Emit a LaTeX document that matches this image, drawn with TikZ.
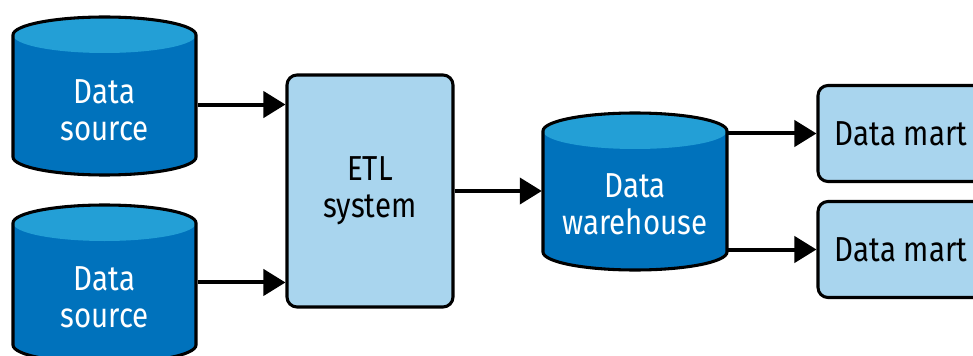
\documentclass[tikz,border=0pt]{standalone}
\usepackage{fontspec}
\setmainfont{Fira Sans}[FakeStretch=0.85]
\usetikzlibrary{arrows.meta,positioning}
\definecolor{canbody}{RGB}{0,114,188}
\definecolor{cantop}{RGB}{35,159,214}
\definecolor{stagefill}{RGB}{169,213,238}

\begin{document}
\begin{tikzpicture}[x=0.75pt,y=0.75pt,yscale=-1,xscale=1,
  line width=2.3pt,
  canlabel/.style={inner sep=0pt,minimum width=137.5pt,minimum height=90pt,align=center,text=white,font=\fontsize{26}{28}\selectfont},
  stage/.style={draw,fill=stagefill,rounded corners=7.5pt,align=center,inner sep=0pt,font=\fontsize{26}{28}\selectfont},
  flow/.style={line width=3pt,-{Triangle[length=16.5pt,width=19.5pt]}},
]
\path[use as bounding box,clip] (0,0) rectangle (973,356);

%Shape: Can [source 1]
\fill[canbody] (13,35) -- (13,157) arc[start angle=180,end angle=0,x radius=91.5,y radius=18] -- (196,35) arc[start angle=0,end angle=-180,x radius=91.5,y radius=18] -- cycle;
\fill[cantop] (104.5,35) ellipse[x radius=91.5,y radius=18];
\draw (13,35) -- (13,157) arc[start angle=180,end angle=0,x radius=91.5,y radius=18] -- (196,35) arc[start angle=0,end angle=-180,x radius=91.5,y radius=18] -- cycle;
%Shape: Can [source 2]
\fill[canbody] (13,223) -- (13,345) arc[start angle=180,end angle=0,x radius=91.5,y radius=18] -- (196,223) arc[start angle=0,end angle=-180,x radius=91.5,y radius=18] -- cycle;
\fill[cantop] (104.5,223) ellipse[x radius=91.5,y radius=18];
\draw (13,223) -- (13,345) arc[start angle=180,end angle=0,x radius=91.5,y radius=18] -- (196,223) arc[start angle=0,end angle=-180,x radius=91.5,y radius=18] -- cycle;
%Shape: Can [warehouse]
\fill[canbody] (543,131) -- (543,252) arc[start angle=180,end angle=0,x radius=92,y radius=18] -- (727,131) arc[start angle=0,end angle=-180,x radius=92,y radius=18] -- cycle;
\fill[cantop] (635,131) ellipse[x radius=92,y radius=18];
\draw (543,131) -- (543,252) arc[start angle=180,end angle=0,x radius=92,y radius=18] -- (727,131) arc[start angle=0,end angle=-180,x radius=92,y radius=18] -- cycle;

% Text Node
\node[canlabel] (src1) at (104.5,110) {Data\\source};
\node[canlabel] (src2) at (104.5,297) {Data\\source};
\node[canlabel] (wh) at (635,204) {Data\\warehouse};
% Rounded Rect
\node[stage,minimum width=124.5pt,minimum height=174pt] (etl) at (370,191) {ETL\\system};
\node[stage,minimum width=124.5pt,minimum height=72pt] (dm1) at (901,133.5) {Data mart};
\node[stage,minimum width=124.5pt,minimum height=72pt] (dm2) at (901,249.5) {Data mart};

%Straight Lines
\coordinate (src1out) at ([yshift=-4.1pt]src1.east);
\coordinate (src2out) at ([yshift=-10.9pt]src2.east);
\draw[flow] (src1out) -- (src1out -| etl.west);
\draw[flow] (src2out) -- (src2out -| etl.west);
\draw[flow] (etl.east) -- (etl.east -| wh.west);
\draw[flow] (dm1.west -| wh.east) -- (dm1.west);
\draw[flow] (dm2.west -| wh.east) -- (dm2.west);

\end{tikzpicture}
\end{document}
